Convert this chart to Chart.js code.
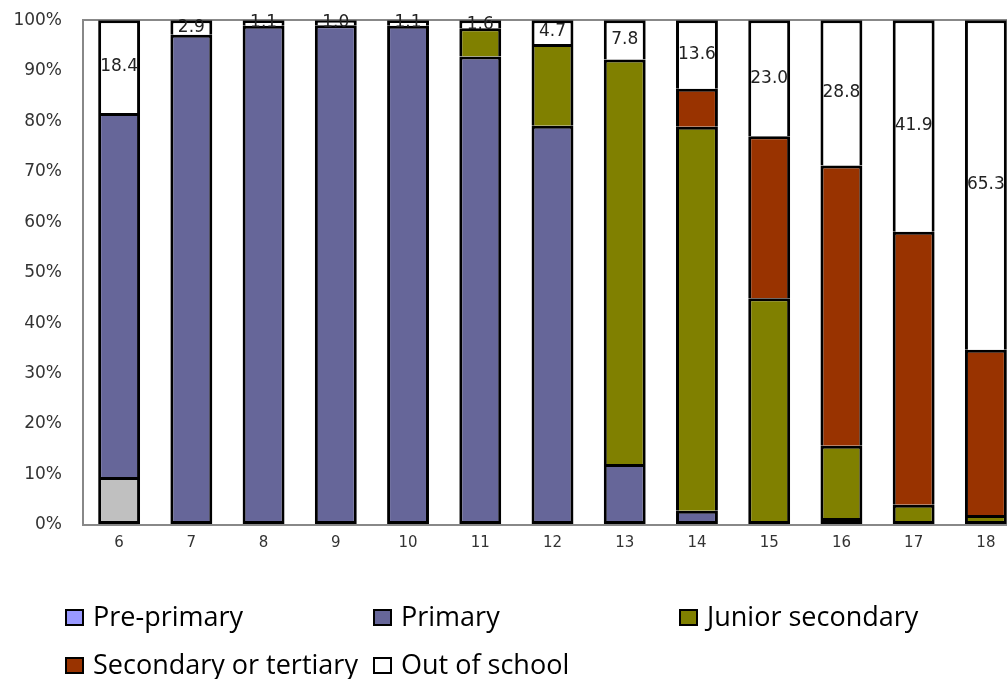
<!DOCTYPE html>
<html lang="en">
<head>
    <meta charset="UTF-8">
    <title>Enrolment by age</title>
    <script src="https://cdn.jsdelivr.net/npm/chart.js"></script>
    <style>
        html, body {
            margin: 0;
            padding: 0;
            background: #fff;
            overflow: hidden;
        }
        .chart-container {
            width: 1022px; /* plot runs past the right edge, as in the original */
            height: 690px;
            margin-top: -11px; /* pull the plot up close to the top edge */
        }
    </style>
</head>
<body>
    <div class="chart-container">
        <canvas id="ageChart"></canvas>
    </div>

    <script>
        // ages 6..18
        var ages = ['6', '7', '8', '9', '10', '11', '12', '13', '14', '15', '16', '17', '18'];

        var prePrimary = [9.5, 0, 0, 0, 0, 0, 0, 0, 0, 0, 0, 0, 0];
        var primary = [72.1, 97.1, 98.9, 99.0, 98.9, 92.8, 79.1, 12.1, 2.8, 0.8, 1.4, 0.8, 0.8];
        var juniorSecondary = [0, 0, 0, 0, 0, 5.6, 16.2, 80.1, 76.1, 44.1, 14.3, 3.2, 1.2];
        var secondaryTertiary = [0, 0, 0, 0, 0, 0, 0, 0, 7.5, 32.1, 55.5, 54.1, 32.7];
        var outOfSchool = [18.4, 2.9, 1.1, 1.0, 1.1, 1.6, 4.7, 7.8, 13.6, 23.0, 28.8, 41.9, 65.3];

        var yTicks = [0, 10, 20, 30, 40, 50, 60, 70, 80, 90, 100];

        var allSeries = [prePrimary, primary, juniorSecondary, secondaryTertiary, outOfSchool];

        // no outline on empty segments
        function borderFor(c) {
            return c.raw ? 3 : 0;
        }

        // lowest non-empty segment keeps its bottom edge, the rest share edges
        function skipFor(c) {
            for (var d = 0; d < allSeries.length; d++) {
                if (allSeries[d][c.dataIndex]) {
                    return d === c.datasetIndex ? false : 'start';
                }
            }
            return 'start';
        }

        // value labels on the out of school segments
        var outLabels = {
            id: 'outLabels',
            afterDatasetsDraw: function (chart) {
                var ctx = chart.ctx;
                var meta = chart.getDatasetMeta(4);
                ctx.save();
                ctx.font = '17px "DejaVu Sans"';
                ctx.fillStyle = '#222';
                ctx.textAlign = 'center';
                ctx.textBaseline = 'middle';
                meta.data.forEach(function (bar, i) {
                    ctx.fillText(outOfSchool[i].toFixed(1), bar.x, (bar.y + bar.base) / 2);
                });
                ctx.restore();
            }
        };

        // Excel-style legend laid out in columns under the plot
        var columnLegend = {
            id: 'columnLegend',
            afterDraw: function (chart) {
                var ctx = chart.ctx;
                var cols = [66, 374, 680];
                var rows = [629, 677];
                var colors = ['#9999FF', '#666699', '#808000', '#993300', '#FFFFFF'];
                ctx.save();
                ctx.font = '27px "Open Sans", sans-serif';
                ctx.textBaseline = 'middle';
                chart.data.datasets.forEach(function (ds, i) {
                    var x = cols[i % 3];
                    var y = rows[Math.floor(i / 3)];
                    ctx.fillStyle = colors[i];
                    ctx.fillRect(x, y - 8, 17, 15);
                    ctx.strokeStyle = '#000';
                    ctx.lineWidth = 2;
                    ctx.strokeRect(x, y - 8, 17, 15);
                    ctx.fillStyle = '#000';
                    ctx.fillText(ds.label, x + 27, y);
                });
                ctx.restore();
            }
        };

        var ctx = document.getElementById('ageChart').getContext('2d');
        new Chart(ctx, {
            type: 'bar',
            data: {
                labels: ages,
                datasets: [
                    {
                        label: 'Pre-primary',
                        data: prePrimary,
                        backgroundColor: function (c) {
                            return c.dataIndex === 0 ? '#C0C0C0' : '#9999FF'; // age 6 drawn grey in the original
                        }
                    },
                    { label: 'Primary', data: primary, backgroundColor: '#666699' },
                    { label: 'Junior secondary', data: juniorSecondary, backgroundColor: '#808000' },
                    { label: 'Secondary or tertiary', data: secondaryTertiary, backgroundColor: '#993300' },
                    { label: 'Out of school', data: outOfSchool, backgroundColor: '#FFFFFF' }
                ]
            },
            options: {
                responsive: true,
                maintainAspectRatio: false,
                animation: false,
                datasets: {
                    bar: {
                        borderColor: '#000',
                        borderWidth: borderFor,
                        borderSkipped: skipFor,
                        barPercentage: 0.58,
                        categoryPercentage: 1.0
                    }
                },
                layout: {
                    padding: { top: -2, right: 0, bottom: 118, left: 0 }
                },
                plugins: {
                    legend: { display: false },
                    tooltip: { enabled: false }
                },
                scales: {
                    x: {
                        stacked: true,
                        grid: { display: false, drawTicks: false },
                        border: { color: '#888', width: 2 },
                        ticks: {
                            padding: 9,
                            color: '#333',
                            font: { family: 'DejaVu Sans', size: 15 }
                        }
                    },
                    y: {
                        stacked: true,
                        min: 0,
                        max: 100,
                        afterBuildTicks: function (scale) {
                            scale.ticks = yTicks.map(function (v) { return { value: v }; });
                        },
                        afterFit: function (scale) {
                            scale.width = 83;
                        },
                        grid: {
                            drawTicks: false,
                            lineWidth: 2,
                            color: function (c) {
                                return c.tick && c.tick.value === 100 ? '#888' : 'rgba(0,0,0,0)';
                            }
                        },
                        border: { color: '#888', width: 2 },
                        ticks: {
                            padding: 21,
                            color: '#333',
                            font: { family: 'DejaVu Sans', size: 17 },
                            callback: function (v) { return v + '%'; }
                        }
                    }
                }
            },
            plugins: [outLabels, columnLegend]
        });
    </script>
</body>
</html>
